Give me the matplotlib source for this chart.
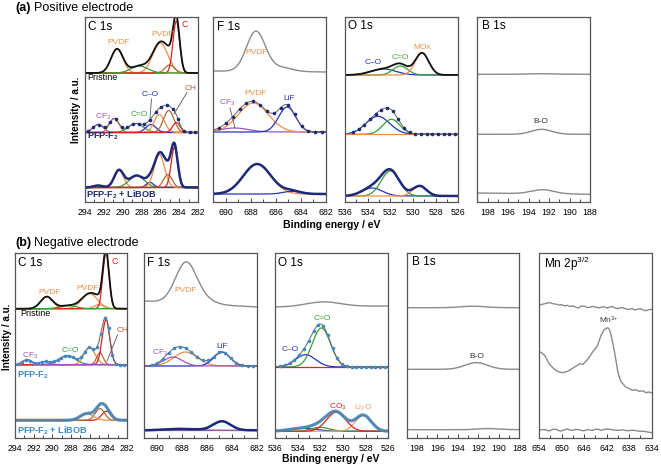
import numpy as np
import matplotlib
matplotlib.use("Agg")
import matplotlib.pyplot as plt
from matplotlib.lines import Line2D
from matplotlib.ticker import MultipleLocator, FixedLocator

plt.rcParams['font.family'] = ['Liberation Sans', 'DejaVu Sans']
plt.rcParams['mathtext.default'] = 'regular'

# ---------------- data: fitted components (name, centre eV, height a.u., sigma eV) --------
# (a) positive electrode
A_C1S_PRISTINE = [("PVDF", 290.6, 24, 0.64), ("PVDF", 286.0, 30, 0.8), ("CH", 285.0, 8, 0.5),
                  ("C", 284.3, 52, 0.35), ("C=O", 288.2, 7, 0.9)]
A_C1S_PFP = [("CF3", 292.6, 8, 0.55), ("PVDF", 290.9, 14, 0.5), ("C=O", 288.6, 9, 0.8),
             ("C–O", 287.0, 8, 0.55), ("PVDF", 286.1, 18, 0.55), ("CH", 285.1, 22, 0.55),
             ("C", 284.3, 10, 0.4)]
A_C1S_LIBOB = [("CF3", 292.6, 2, 0.5), ("PVDF", 290.4, 17, 0.5), ("C=O", 288.5, 12, 0.8),
               ("C–O", 287.1, 5, 0.4), ("PVDF", 286.1, 33, 0.55), ("CH", 285.2, 13, 0.45),
               ("C", 284.5, 40, 0.35)]
A_F1S_PRISTINE = [("raw", 687.6, 40, 0.75), ("raw", 685.6, 4, 0.9)]
A_F1S_PFP = [("CF3", 689.3, 4, 1.1), ("PVDF", 687.8, 29, 1.2), ("LiF", 685.1, 25, 0.68)]
A_F1S_LIBOB = [("PVDF", 687.5, 30, 1.1), ("LiF", 684.7, 2.7, 0.7)]
A_O1S_PRISTINE = [("C–O", 532.6, 6, 1.1), ("C=O", 531.1, 9, 0.65), ("MOx", 529.2, 22, 0.6)]
A_O1S_PFP = [("C–O", 533.1, 18, 1.05), ("C=O", 531.9, 15, 0.75), ("MOx", 529.5, 0.0, 0.6)]
A_O1S_LIBOB = [("C–O", 533.6, 8, 0.9), ("C=O", 532.0, 25, 0.8), ("MOx", 529.4, 10, 0.6)]
A_B1S_PRISTINE = [("raw", 192.7, 0.6, 1.2)]
A_B1S_PFP = [("raw", 192.7, 5, 1.0)]
A_B1S_LIBOB = [("raw", 192.6, 4, 1.1)]

# (b) negative electrode
B_C1S_PRISTINE = [("PVDF", 290.6, 12, 0.65), ("PVDF", 286.0, 15, 0.85), ("PVDF", 285.0, 4, 0.5),
                  ("C", 284.25, 56, 0.33), ("C=O", 288.3, 3, 0.9)]
B_C1S_PFP = [("PVDF", 290.8, 3, 0.6), ("C=O", 288.4, 9, 0.9), ("PVDF", 286.0, 17, 0.6),
             ("CH", 284.9, 12, 0.35), ("C", 284.25, 45, 0.4), ("CF3", 292.7, 5, 0.5)]
B_C1S_LIBOB = [("C", 284.2, 9, 0.5), ("CH", 284.9, 11.7, 0.5), ("PVDF", 286.3, 6.7, 0.7)]
B_F1S_PRISTINE = [("raw", 687.65, 41, 0.85), ("raw", 686.0, 3, 0.8)]
B_F1S_PFP = [("PVDF", 687.7, 14, 0.95), ("LiF", 684.8, 14, 0.65), ("CF3", 688.7, 9, 0.75)]
B_F1S_LIBOB = [("misc", 688.0, 1.5, 1.2), ("LiF", 684.8, 9, 0.7), ("CF3", 686.0, 0.0, 1.0)]
B_O1S_PRISTINE = [("raw", 531.7, 4.7, 1.5)]
B_O1S_PFP = [("C–O", 533.3, 12.3, 0.9), ("C=O", 531.9, 39, 0.8), ("CO3", 530.0, 0.0, 1.0)]
B_O1S_LIBOB = [("C–O", 533.5, 3, 1.2), ("C=O", 532.0, 4, 0.8), ("Li2O", 528.2, 16, 0.7),
               ("CO3", 530.6, 19, 0.85)]
B_B1S_PRISTINE = [("raw", 192.5, 1.5, 1.2)]
B_B1S_PFP = [("raw", 192.2, 6.7, 1.1)]
B_B1S_LIBOB = [("raw", 191.0, 1.2, 1.0)]

# Mn 2p3/2 raw traces (binding energy eV, intensity a.u.)
MN_PRISTINE_E = [654, 653.5, 653, 652.5, 652, 651.5, 651, 650.5, 650, 649.5, 649, 648.5, 648, 647.5,
                 647, 646.5, 646, 645.5, 645, 644.5, 644, 643.5, 643, 642.5, 642, 641.5, 641, 640.5,
                 640, 639.5, 639, 638.5, 638, 637.5, 637, 636.5, 636, 635.5, 635, 634.5, 634]
MN_PRISTINE_I = [132.6, 133.5, 134.3, 135.0, 135.3, 134.2, 134.0, 133.0, 133.3, 132.2, 132.6, 131.5,
                 132.0, 131.0, 130.0, 131.8, 132.0, 130.5, 130.6, 131.6, 131.0, 130.2, 130.6, 131.4,
                 130.0, 130.8, 131.6, 130.0, 129.3, 130.4, 130.0, 129.0, 128.6, 129.4, 128.0, 128.8,
                 129.3, 128.0, 127.3, 128.4, 128.6]
MN_PFP_E = [654, 653.5, 653, 652.6, 652.2, 651.6, 651, 650.4, 649.8, 649.2, 648.6, 648.1, 647.7,
            647.2, 646.8, 646.2, 645.7, 645.1, 644.5, 644.0, 643.6, 643.0, 642.4, 641.8, 641.5,
            641.2, 640.9, 640.6, 640.3, 640.0, 639.7, 639.4, 639.0, 638.6, 638.0, 637.4, 636.8,
            636.2, 635.6, 635.0, 634.5, 634]
MN_PFP_I = [86.6, 85.0, 82.6, 78.5, 74.3, 70.5, 67.6, 66.0, 65.3, 66.2, 67.6, 69.5, 71.0, 72.5,
            74.3, 73.8, 76.6, 80.5, 86.0, 89.5, 92.6, 102.6, 108.6, 110.3, 108.5, 102.6, 95.0,
            86.0, 76.0, 66.0, 60.0, 56.0, 53.5, 51.0, 49.5, 47.6, 48.3, 46.6, 47.2, 45.3, 46.0, 45.0]
MN_LIBOB_E = MN_PRISTINE_E
MN_LIBOB_I = [7.6, 8.4, 8.3, 7.4, 7.3, 8.8, 8.6, 7.4, 7.0, 8.2, 9.0, 8.0, 7.6, 8.6, 8.3, 7.5, 7.3,
              8.2, 8.0, 7.6, 8.6, 8.8, 7.6, 8.4, 9.0, 8.8, 8.3, 7.8, 7.6, 8.0, 8.0, 7.4, 7.3, 7.8,
              7.6, 7.0, 6.6, 6.8, 6.3, 5.8, 5.3]

# axis tick labels
C_TICKS = [294, 292, 290, 288, 286, 284, 282]
F_TICKS = [690, 688, 686, 684, 682]
O_TICKS = [536, 534, 532, 530, 528, 526]
B_TICKS = [198, 196, 194, 192, 190, 188]
MN_TICKS = [654, 650, 646, 642, 638, 634]

# ---------------- styling ----------------
COL = {"PVDF": "#f28e3f", "C": "#e3211c", "C=O": "#35a035", "C–O": "#2434c4", "CF3": "#9a55b8",
       "CH": "#a86a3c", "LiF": "#2434c4", "MOx": "#f28e3f", "CO3": "#e3211c", "Li2O": "#f5a06a",
       "misc": "#3aa59a"}
GREY = "#8a8a8a"
NAVY = "#1d2a78"
STEEL = "#3d8ac6"

W, H = 661, 469
fig = plt.figure(figsize=(W / 100, H / 100), dpi=100)


def fx(x):
    return x / W


def fy(y):
    return 1 - y / H


def T(x, y, s, size=6.0, color="k", ha="center", weight="normal"):
    fig.text(fx(x), fy(y), s, ha=ha, va="center", fontsize=size, color=color, fontweight=weight)


def leader(x0, y0, x1, y1, color="#555555"):
    fig.add_artist(Line2D([fx(x0), fx(x1)], [fy(y0), fy(y1)], transform=fig.transFigure,
                          color=color, lw=0.6))


def panel(x0, x1, ytop, ybot, xr, ticks, minor):
    ax = fig.add_axes([fx(x0), fy(ybot), fx(x1 - x0), (ybot - ytop) / H])
    ax.set_xlim(xr[0], xr[1])
    ax.set_ylim(0, ybot - ytop)
    ax.set_yticks([])
    ax.xaxis.set_major_locator(FixedLocator(ticks))
    ax.xaxis.set_minor_locator(MultipleLocator(minor))
    ax.tick_params(axis="x", which="both", direction="in", labelsize=6.3, pad=4.2,
                   color="#444444", width=0.7)
    ax.tick_params(axis="x", which="major", length=3)
    ax.tick_params(axis="x", which="minor", length=2)
    for sp in ax.spines.values():
        sp.set_color("#555555")
        sp.set_linewidth(0.9)
    return ax


def spectrum(ax, xr, base, peaks, env, step=0.5):
    lo, hi = min(xr), max(xr)
    x = np.linspace(lo, hi, 900)
    b0, b1 = (base, base) if np.isscalar(base) else base
    b = b0 + (b1 - b0) * (xr[0] - x) / (xr[0] - xr[1])
    total = np.zeros_like(x)
    comps = []
    for name, c, h, s in peaks:
        g = h * np.exp(-(x - c) ** 2 / (2 * s * s))
        total += g
        comps.append((name, g))
    if env == "raw":
        ax.plot(x, b + total, color=GREY, lw=1.0)
        return
    for name, g in comps:
        ax.plot(x, b + g, color=COL[name], lw=0.9)
    if env == "black":
        ax.plot(x, b + total, color="#111111", lw=1.3)
    elif env in ("dots_a", "dots_b"):
        mc = NAVY if env == "dots_a" else STEEL
        ax.plot(x, b + total, color="#666666", lw=0.7)
        xd = np.arange(lo + 0.3, hi - 0.2, step)
        bd = b0 + (b1 - b0) * (xr[0] - xd) / (xr[0] - xr[1])
        td = np.zeros_like(xd)
        for name, c, h, s in peaks:
            td += h * np.exp(-(xd - c) ** 2 / (2 * s * s))
        ax.plot(xd, bd + td, "o", color=mc, ms=2.6, mew=0)
    elif env == "thick_a":
        ax.plot(x, b + total, color=NAVY, lw=1.8)
    elif env == "thick_b":
        ax.plot(x, b + total, color=STEEL, lw=2.3, alpha=0.9)
        ax.plot(x, b + total, color="#777777", lw=0.5)


# ---------------- (a) positive electrode ----------------
AT, AB = 17, 202
C_R, F_R, O_R, B_R, MN_R = (294, 282), (691, 682), (536, 526), (199, 188), (654, 634)

ax = panel(85, 198, AT, AB, C_R, C_TICKS, 1)
spectrum(ax, C_R, 129, A_C1S_PRISTINE, "black")
spectrum(ax, C_R, 69.5, A_C1S_PFP, "dots_a", 0.6)
spectrum(ax, C_R, 14.5, A_C1S_LIBOB, "thick_a")

ax = panel(213.3, 326, AT, AB, F_R, F_TICKS, 1)
spectrum(ax, F_R, (131, 130), A_F1S_PRISTINE, "raw")
spectrum(ax, F_R, 70, A_F1S_PFP, "dots_a", 0.55)
spectrum(ax, F_R, 8, A_F1S_LIBOB, "thick_a")

ax = panel(345, 458.3, AT, AB, O_R, O_TICKS, 1)
spectrum(ax, O_R, 127, A_O1S_PRISTINE, "black")
spectrum(ax, O_R, 67.7, A_O1S_PFP, "dots_a", 0.5)
spectrum(ax, O_R, 6, A_O1S_LIBOB, "thick_a")

ax = panel(477.3, 590, AT, AB, B_R, B_TICKS, 1)
spectrum(ax, B_R, 127.7, A_B1S_PRISTINE, "raw")
spectrum(ax, B_R, 67.7, A_B1S_PFP, "raw")
spectrum(ax, B_R, (9, 7.7), A_B1S_LIBOB, "raw")

# ---------------- (b) negative electrode ----------------
BT, BB = 253, 438

ax = panel(15, 127, BT, BB, C_R, C_TICKS, 1)
spectrum(ax, C_R, 129.3, B_C1S_PRISTINE, "black")
spectrum(ax, C_R, 73.3, B_C1S_PFP, "dots_b", 0.42)
spectrum(ax, C_R, 17.7, B_C1S_LIBOB, "thick_b")

ax = panel(144.3, 257, BT, BB, F_R, F_TICKS, 1)
spectrum(ax, F_R, (137, 131), B_F1S_PRISTINE, "raw")
spectrum(ax, F_R, 72, B_F1S_PFP, "dots_b", 0.45)
spectrum(ax, F_R, 7.7, B_F1S_LIBOB, "thick_a")

ax = panel(275, 388.3, BT, BB, O_R, O_TICKS, 1)
spectrum(ax, O_R, (131, 132), B_O1S_PRISTINE, "raw")
spectrum(ax, O_R, 71, B_O1S_PFP, "dots_b", 0.42)
spectrum(ax, O_R, 6.7, B_O1S_LIBOB, "thick_b")

ax = panel(406.7, 519.3, BT, BB, B_R, B_TICKS, 1)
spectrum(ax, B_R, 130.3, B_B1S_PRISTINE, "raw")
spectrum(ax, B_R, 68.7, B_B1S_PFP, "raw")
spectrum(ax, B_R, 8.3, B_B1S_LIBOB, "raw")

ax = panel(539, 651.7, BT, BB, MN_R, MN_TICKS, 2)
ax.plot(MN_PRISTINE_E, MN_PRISTINE_I, color=GREY, lw=1.0)
ax.plot(MN_PFP_E, MN_PFP_I, color=GREY, lw=1.0)
ax.plot(MN_LIBOB_E, MN_LIBOB_I, color=GREY, lw=1.0)

# ---------------- text ----------------
T(15, 8, "(a)", 9, ha="left", weight="bold")
T(34, 8, "Positive electrode", 9, ha="left")
T(15, 242.5, "(b)", 9, ha="left", weight="bold")
T(34.5, 242.5, "Negative electrode", 9, ha="left")

T(332, 225, "Binding energy / eV", 7.5, weight="bold")
T(331, 459, "Binding energy / eV", 7.5, weight="bold")
fig.text(fx(76), fy(110), "Intensity / a.u.", rotation=90, ha="center", va="center",
         fontsize=7.2, fontweight="bold")
fig.text(fx(7.5), fy(337), "Intensity / a.u.", rotation=90, ha="center", va="center",
         fontsize=7.2, fontweight="bold")

# (a) panel texts
T(88.3, 27, "C 1s", 8.5, ha="left")
T(119, 42, "PVDF", color=COL["PVDF"])
T(162, 34, "PVDF", color=COL["PVDF"])
T(184.5, 24.5, "C", 6.5, color=COL["C"])
T(87.3, 78, "Pristine", 6.5, ha="left")
T(103, 117, "CF$_3$", color=COL["CF3"])
T(139, 114, "C=O", color=COL["C=O"])
T(150, 94.5, "C–O", color=COL["C–O"])
T(191, 89, "CH", color=COL["CH"])
leader(151.5, 99, 150, 118)
leader(187, 92.5, 174, 114)
T(87.3, 136, "PFP-F$_2$", 6.6, color=NAVY, ha="left", weight="bold")
T(86.5, 194.3, "PFP-F$_2$ + LiBOB", 6.6, color=NAVY, ha="left", weight="bold")

T(216.7, 27, "F 1s", 8.5, ha="left")
T(256.7, 52.3, "PVDF", color=COL["PVDF"])
T(227.5, 102.7, "CF$_3$", color=COL["CF3"])
leader(230, 108, 235, 128)
T(255.8, 93.3, "PVDF", color=COL["PVDF"])
T(289, 98.7, "LiF", color=COL["LiF"])

T(347.7, 26, "O 1s", 8.5, ha="left")
T(373.3, 62.3, "C–O", color=COL["C–O"])
T(400.3, 57.3, "C=O", color=COL["C=O"])
T(422, 47.3, "MOx", color=COL["MOx"])

T(481.7, 26, "B 1s", 8.5, ha="left")
T(541.3, 121.7, "B-O", color="#333333")

# (b) panel texts
T(18.3, 262.7, "C 1s", 8.5, ha="left")
T(49.7, 292.3, "PVDF", color=COL["PVDF"])
T(87.5, 289, "PVDF", color=COL["PVDF"])
T(115, 261.7, "C", 6.5, color=COL["C"])
T(20.7, 314, "Pristine", 6.5, ha="left")
T(29.7, 356, "CF$_3$", color=COL["CF3"])
T(70.5, 350, "C=O", color=COL["C=O"])
T(123, 330, "CH", color=COL["CH"])
leader(117.5, 335, 107, 361)
T(16.7, 375, "PFP-F$_2$", 6.6, color=STEEL, ha="left", weight="bold")
T(16.7, 431, "PFP-F$_2$ + LiBOB", 6.6, color=STEEL, ha="left", weight="bold")

T(146.7, 262.7, "F 1s", 8.5, ha="left")
T(185.8, 290, "PVDF", color=COL["PVDF"])
T(159.7, 352.7, "CF$_3$", color=COL["CF3"])
T(221.7, 346.7, "LiF", color=COL["LiF"])

T(278.3, 263, "O 1s", 8.5, ha="left")
T(290.5, 349.3, "C–O", color=COL["C–O"])
T(322.5, 318.3, "C=O", color=COL["C=O"])
T(338, 406.7, "CO$_3$", color=COL["CO3"])
T(363.5, 408.3, "Li$_2$O", color=COL["Li2O"])

T(411.7, 262, "B 1s", 8.5, ha="left")
T(476.7, 356.7, "B-O", color="#333333")

T(544.3, 264, "Mn 2p$^{3/2}$", 8.5, ha="left")
T(609.3, 320.7, "Mn$^{3{+}}$", color="#333333")

fig.savefig("out.png", dpi=100)
